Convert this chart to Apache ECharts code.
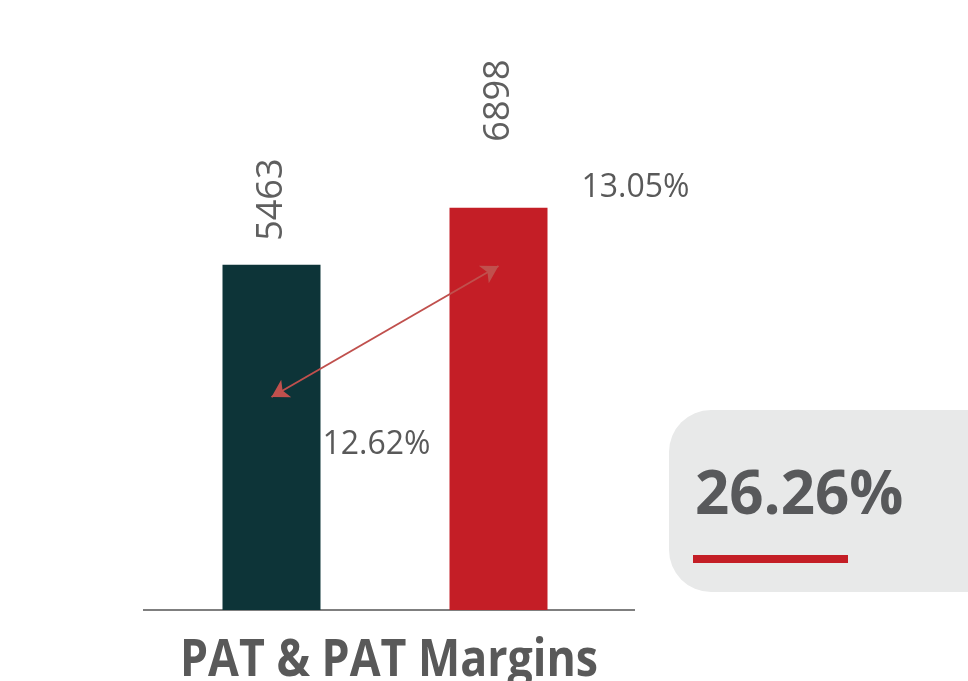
<!DOCTYPE html>
<html>
<head>
<meta charset="utf-8">
<script src="https://cdn.jsdelivr.net/npm/echarts@6/dist/echarts.min.js"></script>
<style>
  html, body { margin: 0; padding: 0; background: #fff; }
  #chart { width: 968px; height: 681px; }
</style>
</head>
<body>
<div id="chart"></div>
<script>
// data
const years = ['FY1', 'FY2'];
const pat = [5463, 6898];
const patMargins = [12.62, 13.05];
const growth = '26.26%';
const titleText = 'PAT & PAT Margins';

const barColors = ['#0d3438', '#c41e26'];
const labelDistance = [24, 66];
const marginOffsets = [[51, 48], [83, -78]];

const chart = echarts.init(document.getElementById('chart'));

const option = {
  backgroundColor: '#fff',
  animation: false,
  grid: { left: 158, width: 454, top: 100, bottom: 71 },
  xAxis: {
    type: 'category',
    data: years,
    axisLine: { show: false },
    axisTick: { show: false },
    axisLabel: { show: false }
  },
  yAxis: [
    { type: 'value', min: -3200, max: 9600, startValue: -3200, show: false },
    { type: 'value', min: 11.9208, max: 13.5949, show: false }
  ],
  series: [
    {
      name: 'PAT',
      type: 'bar',
      barWidth: 98,
      data: pat.map((v, i) => ({
        value: v,
        itemStyle: { color: barColors[i] },
        label: { distance: labelDistance[i] }
      })),
      label: {
        show: true,
        position: 'top',
        rotate: 90,
        align: 'left',
        verticalAlign: 'middle',
        fontFamily: 'Open Sans',
        fontSize: 36,
        color: '#5f5f5f'
      }
    },
    {
      name: 'PAT Margin',
      type: 'line',
      yAxisIndex: 1,
      symbol: 'circle',
      symbolSize: 1,
      itemStyle: { color: 'rgba(0,0,0,0)' },
      lineStyle: { width: 0, opacity: 0 },
      data: patMargins.map((v, i) => ({
        value: v,
        label: { offset: marginOffsets[i] }
      })),
      label: {
        show: true,
        position: 'inside',
        align: 'left',
        verticalAlign: 'middle',
        formatter: p => p.value.toFixed(2) + '%',
        fontFamily: 'Open Sans',
        fontSize: 32,
        color: '#595959'
      },
      markLine: {
        silent: true,
        symbol: ['arrow', 'arrow'],
        symbolSize: [15, 17],
        label: { show: false },
        lineStyle: { color: '#c0504d', width: 2, type: 'solid' },
        data: [[
          { coord: [0, patMargins[0]] },
          { coord: [1, patMargins[1]] }
        ]]
      }
    }
  ],
  graphic: [
    {
      type: 'line',
      shape: { x1: 143, y1: 610, x2: 635, y2: 610 },
      style: { stroke: '#7f7f7f', lineWidth: 2 },
      z: 1
    },
    {
      type: 'rect',
      shape: { x: 669, y: 410, width: 340, height: 182, r: 42 },
      style: { fill: '#e8e9e9' }
    },
    {
      type: 'text',
      x: 695,
      y: 497,
      style: {
        text: growth,
        font: 'bold 60px "Open Sans"',
        fill: '#58595b',
        textAlign: 'left',
        textVerticalAlign: 'middle'
      }
    },
    {
      type: 'rect',
      shape: { x: 693, y: 555, width: 155, height: 8 },
      style: { fill: '#c41e26' }
    },
    {
      type: 'text',
      x: 180,
      y: 661,
      scaleX: 0.86,
      style: {
        text: titleText,
        font: 'bold 52px "Open Sans"',
        fill: '#595959',
        textAlign: 'left',
        textVerticalAlign: 'middle'
      }
    }
  ]
};

chart.setOption(option);
</script>
</body>
</html>
